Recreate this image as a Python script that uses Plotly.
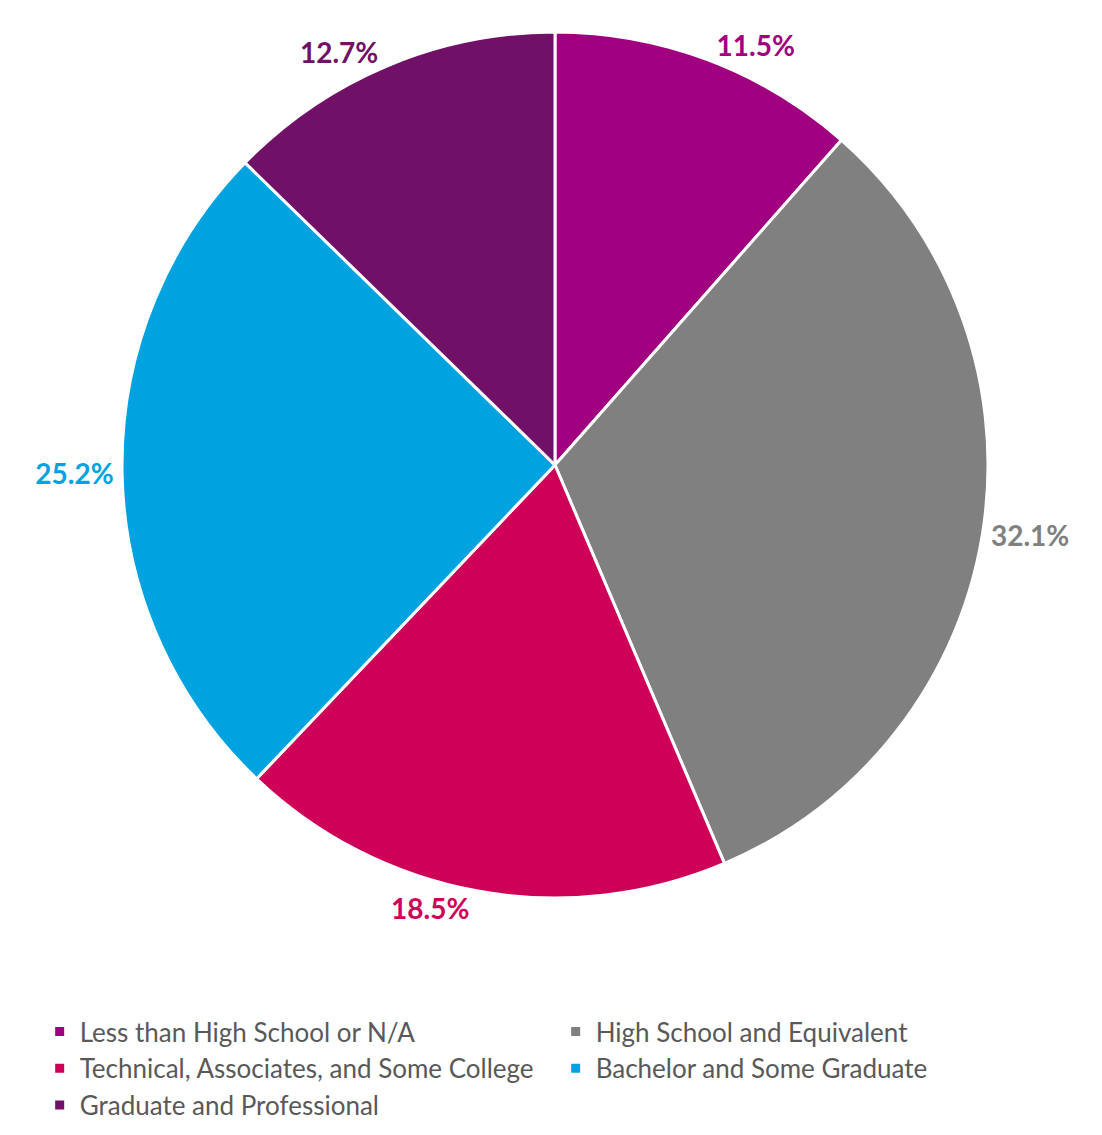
import plotly.graph_objects as go

# Educational attainment shares
categories = [
    "Less than High School or N/A",
    "High School and Equivalent",
    "Technical, Associates, and Some College",
    "Bachelor and Some Graduate",
    "Graduate and Professional",
]
shares = [11.5, 32.1, 18.5, 25.2, 12.7]
colors = ["#A0007F", "#808080", "#CF0058", "#00A3DF", "#701066"]

W, H = 1102, 1135
cx, cy, r = 555, 465, 433

fig = go.Figure(
    go.Pie(
        labels=categories,
        values=shares,
        sort=False,
        direction="clockwise",
        rotation=0,
        marker=dict(colors=colors, line=dict(color="white", width=3)),
        texttemplate="%{value:.1f}%",
        textposition="outside",
        textfont=dict(family="Lato", size=28, color=colors, weight="bold"),
        hoverinfo="label+percent",
        domain=dict(
            x=[(cx - r) / W, (cx + r) / W],
            y=[1 - (cy + r) / H, 1 - (cy - r) / H],
        ),
        automargin=False,
    )
)

fig.update_layout(
    width=W,
    height=H,
    margin=dict(l=0, r=0, t=0, b=0),
    paper_bgcolor="white",
    plot_bgcolor="white",
    showlegend=True,
    legend=dict(
        orientation="h",
        x=0.036,
        xanchor="left",
        y=1 - 1008 / H,
        yanchor="top",
        entrywidth=471,
        entrywidthmode="pixels",
        font=dict(family="Lato", size=26, color="#595959"),
        traceorder="normal",
        itemwidth=30,
    ),
)

fig.write_html("out.html")
